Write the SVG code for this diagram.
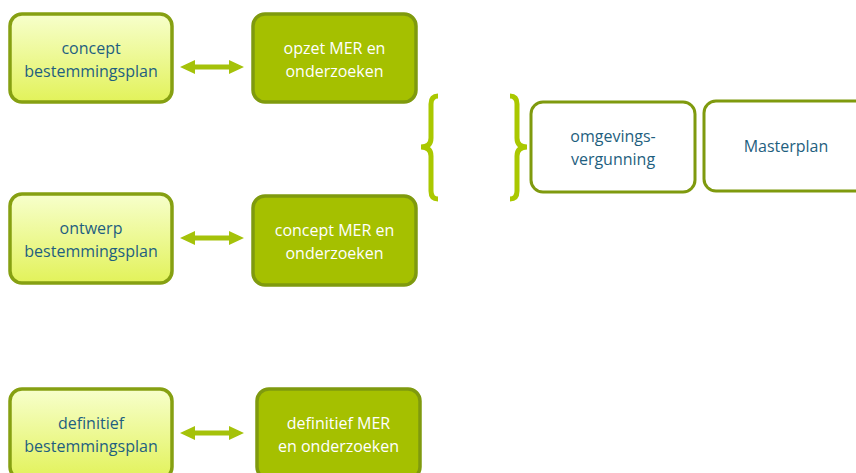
<svg xmlns="http://www.w3.org/2000/svg" width="856" height="473" viewBox="0 0 856 473">
<defs>
<linearGradient id="lg" x1="0" y1="0" x2="0" y2="1">
<stop offset="0" stop-color="#f7ffcc"/>
<stop offset="1" stop-color="#e2f25a"/>
</linearGradient>
<path id="arr" d="M0,0 L15,-7 L15,-2.5 L49,-2.5 L49,-7 L64,0 L49,7 L49,2.5 L15,2.5 L15,7 z"/>
</defs>
<style>
.light{fill:url(#lg);stroke:#86a012;stroke-width:3.5}
.dark{fill:#a5c000;stroke:#7f9a0e;stroke-width:3.5}
.white{fill:#ffffff;stroke:#7f9a0e;stroke-width:3}
.t{font-family:"Open Sans","Liberation Sans",sans-serif;font-size:16px;text-anchor:middle}
.tb{fill:#1f5f80}
.tw{fill:#ffffff}
.conn{fill:#a5c20a}
.brace{stroke:#aac800;stroke-width:5;fill:none}
</style>
<g id="n1"><rect class="light" x="10" y="14" width="162" height="88" rx="12"/>
<text class="t tb" x="91" y="54">concept</text><text class="t tb" x="91" y="77">bestemmingsplan</text></g>
<g id="n2"><rect class="dark" x="253" y="14" width="163" height="88" rx="12"/>
<text class="t tw" x="334.5" y="54">opzet MER en</text><text class="t tw" x="334.5" y="77">onderzoeken</text></g>
<g id="n3"><rect class="light" x="10" y="194" width="162" height="89" rx="12"/>
<text class="t tb" x="91" y="234">ontwerp</text><text class="t tb" x="91" y="257">bestemmingsplan</text></g>
<g id="n4"><rect class="dark" x="253" y="196" width="163" height="89" rx="12"/>
<text class="t tw" x="334.5" y="236">concept MER en</text><text class="t tw" x="334.5" y="259">onderzoeken</text></g>
<g id="n5"><rect class="light" x="10" y="389" width="162" height="90" rx="12"/>
<text class="t tb" x="91" y="429">definitief</text><text class="t tb" x="91" y="452">bestemmingsplan</text></g>
<g id="n6"><rect class="dark" x="257" y="389" width="163" height="90" rx="12"/>
<text class="t tw" x="338.5" y="429">definitief MER</text><text class="t tw" x="338.5" y="452">en onderzoeken</text></g>
<g id="n7"><rect class="white" x="531" y="102" width="164" height="90" rx="12"/>
<text class="t tb" x="613" y="142">omgevings-</text><text class="t tb" x="613" y="165">vergunning</text></g>
<g id="n8"><rect class="white" x="704" y="101" width="164" height="90" rx="12"/>
<text class="t tb" x="786" y="152">Masterplan</text></g>
<g id="braces">
<path class="brace" d="M438,96 Q431,96 431,104 L431,138 Q431,147 421,147 Q431,147 431,156 L431,191 Q431,199 438,199"/>
<path class="brace" d="M510,96 Q517,96 517,104 L517,138 Q517,147 527,147 Q517,147 517,156 L517,191 Q517,199 510,199"/>
</g>
<g id="connectors">
<use href="#arr" class="conn" transform="translate(180,67)"/>
<use href="#arr" class="conn" transform="translate(180,238)"/>
<use href="#arr" class="conn" transform="translate(180,433)"/>
</g>
</svg>
